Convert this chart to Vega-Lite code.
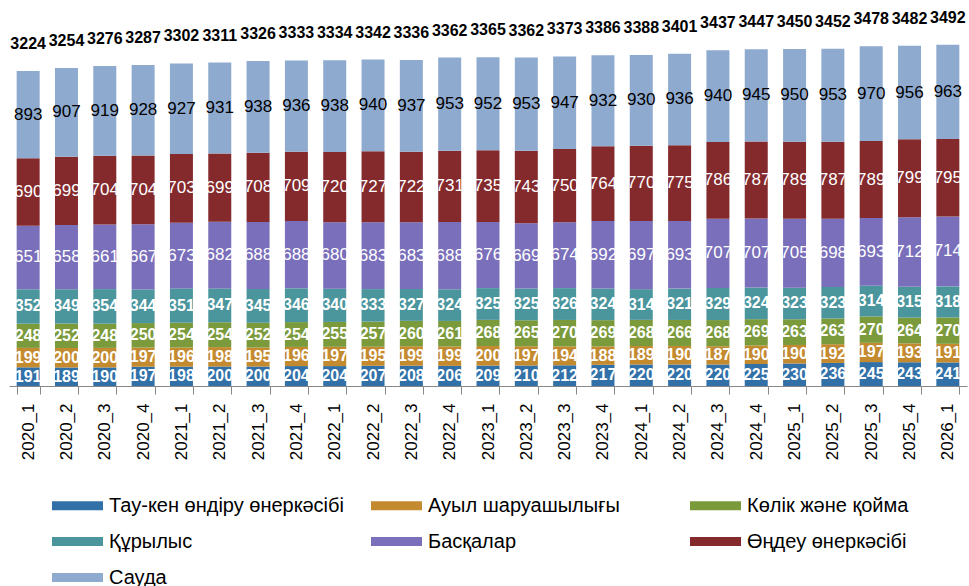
{
  "$schema": "https://vega.github.io/schema/vega-lite/v6.json",
  "autosize": {"type": "none"},
  "width": 958,
  "height": 381,
  "padding": {"left": 9, "top": 5, "right": 2, "bottom": 200},
  "config": {"view": {"stroke": null}, "font": "Liberation Sans"},
  "data": {"values": [
{"p":"2020_1","s":"Тау-кен өндіру өнеркәсібі","v":191},{"p":"2020_1","s":"Ауыл шаруашылығы","v":199},{"p":"2020_1","s":"Көлік және қойма","v":248},{"p":"2020_1","s":"Құрылыс","v":352},{"p":"2020_1","s":"Басқалар","v":651},{"p":"2020_1","s":"Өңдеу өнеркәсібі","v":690},{"p":"2020_1","s":"Сауда","v":893},
{"p":"2020_2","s":"Тау-кен өндіру өнеркәсібі","v":189},{"p":"2020_2","s":"Ауыл шаруашылығы","v":200},{"p":"2020_2","s":"Көлік және қойма","v":252},{"p":"2020_2","s":"Құрылыс","v":349},{"p":"2020_2","s":"Басқалар","v":658},{"p":"2020_2","s":"Өңдеу өнеркәсібі","v":699},{"p":"2020_2","s":"Сауда","v":907},
{"p":"2020_3","s":"Тау-кен өндіру өнеркәсібі","v":190},{"p":"2020_3","s":"Ауыл шаруашылығы","v":200},{"p":"2020_3","s":"Көлік және қойма","v":248},{"p":"2020_3","s":"Құрылыс","v":354},{"p":"2020_3","s":"Басқалар","v":661},{"p":"2020_3","s":"Өңдеу өнеркәсібі","v":704},{"p":"2020_3","s":"Сауда","v":919},
{"p":"2020_4","s":"Тау-кен өндіру өнеркәсібі","v":197},{"p":"2020_4","s":"Ауыл шаруашылығы","v":197},{"p":"2020_4","s":"Көлік және қойма","v":250},{"p":"2020_4","s":"Құрылыс","v":344},{"p":"2020_4","s":"Басқалар","v":667},{"p":"2020_4","s":"Өңдеу өнеркәсібі","v":704},{"p":"2020_4","s":"Сауда","v":928},
{"p":"2021_1","s":"Тау-кен өндіру өнеркәсібі","v":198},{"p":"2021_1","s":"Ауыл шаруашылығы","v":196},{"p":"2021_1","s":"Көлік және қойма","v":254},{"p":"2021_1","s":"Құрылыс","v":351},{"p":"2021_1","s":"Басқалар","v":673},{"p":"2021_1","s":"Өңдеу өнеркәсібі","v":703},{"p":"2021_1","s":"Сауда","v":927},
{"p":"2021_2","s":"Тау-кен өндіру өнеркәсібі","v":200},{"p":"2021_2","s":"Ауыл шаруашылығы","v":198},{"p":"2021_2","s":"Көлік және қойма","v":254},{"p":"2021_2","s":"Құрылыс","v":347},{"p":"2021_2","s":"Басқалар","v":682},{"p":"2021_2","s":"Өңдеу өнеркәсібі","v":699},{"p":"2021_2","s":"Сауда","v":931},
{"p":"2021_3","s":"Тау-кен өндіру өнеркәсібі","v":200},{"p":"2021_3","s":"Ауыл шаруашылығы","v":195},{"p":"2021_3","s":"Көлік және қойма","v":252},{"p":"2021_3","s":"Құрылыс","v":345},{"p":"2021_3","s":"Басқалар","v":688},{"p":"2021_3","s":"Өңдеу өнеркәсібі","v":708},{"p":"2021_3","s":"Сауда","v":938},
{"p":"2021_4","s":"Тау-кен өндіру өнеркәсібі","v":204},{"p":"2021_4","s":"Ауыл шаруашылығы","v":196},{"p":"2021_4","s":"Көлік және қойма","v":254},{"p":"2021_4","s":"Құрылыс","v":346},{"p":"2021_4","s":"Басқалар","v":688},{"p":"2021_4","s":"Өңдеу өнеркәсібі","v":709},{"p":"2021_4","s":"Сауда","v":936},
{"p":"2022_1","s":"Тау-кен өндіру өнеркәсібі","v":204},{"p":"2022_1","s":"Ауыл шаруашылығы","v":197},{"p":"2022_1","s":"Көлік және қойма","v":255},{"p":"2022_1","s":"Құрылыс","v":340},{"p":"2022_1","s":"Басқалар","v":680},{"p":"2022_1","s":"Өңдеу өнеркәсібі","v":720},{"p":"2022_1","s":"Сауда","v":938},
{"p":"2022_2","s":"Тау-кен өндіру өнеркәсібі","v":207},{"p":"2022_2","s":"Ауыл шаруашылығы","v":195},{"p":"2022_2","s":"Көлік және қойма","v":257},{"p":"2022_2","s":"Құрылыс","v":333},{"p":"2022_2","s":"Басқалар","v":683},{"p":"2022_2","s":"Өңдеу өнеркәсібі","v":727},{"p":"2022_2","s":"Сауда","v":940},
{"p":"2022_3","s":"Тау-кен өндіру өнеркәсібі","v":208},{"p":"2022_3","s":"Ауыл шаруашылығы","v":199},{"p":"2022_3","s":"Көлік және қойма","v":260},{"p":"2022_3","s":"Құрылыс","v":327},{"p":"2022_3","s":"Басқалар","v":683},{"p":"2022_3","s":"Өңдеу өнеркәсібі","v":722},{"p":"2022_3","s":"Сауда","v":937},
{"p":"2022_4","s":"Тау-кен өндіру өнеркәсібі","v":206},{"p":"2022_4","s":"Ауыл шаруашылығы","v":199},{"p":"2022_4","s":"Көлік және қойма","v":261},{"p":"2022_4","s":"Құрылыс","v":324},{"p":"2022_4","s":"Басқалар","v":688},{"p":"2022_4","s":"Өңдеу өнеркәсібі","v":731},{"p":"2022_4","s":"Сауда","v":953},
{"p":"2023_1","s":"Тау-кен өндіру өнеркәсібі","v":209},{"p":"2023_1","s":"Ауыл шаруашылығы","v":200},{"p":"2023_1","s":"Көлік және қойма","v":268},{"p":"2023_1","s":"Құрылыс","v":325},{"p":"2023_1","s":"Басқалар","v":676},{"p":"2023_1","s":"Өңдеу өнеркәсібі","v":735},{"p":"2023_1","s":"Сауда","v":952},
{"p":"2023_2","s":"Тау-кен өндіру өнеркәсібі","v":210},{"p":"2023_2","s":"Ауыл шаруашылығы","v":197},{"p":"2023_2","s":"Көлік және қойма","v":265},{"p":"2023_2","s":"Құрылыс","v":325},{"p":"2023_2","s":"Басқалар","v":669},{"p":"2023_2","s":"Өңдеу өнеркәсібі","v":743},{"p":"2023_2","s":"Сауда","v":953},
{"p":"2023_3","s":"Тау-кен өндіру өнеркәсібі","v":212},{"p":"2023_3","s":"Ауыл шаруашылығы","v":194},{"p":"2023_3","s":"Көлік және қойма","v":270},{"p":"2023_3","s":"Құрылыс","v":326},{"p":"2023_3","s":"Басқалар","v":674},{"p":"2023_3","s":"Өңдеу өнеркәсібі","v":750},{"p":"2023_3","s":"Сауда","v":947},
{"p":"2023_4","s":"Тау-кен өндіру өнеркәсібі","v":217},{"p":"2023_4","s":"Ауыл шаруашылығы","v":188},{"p":"2023_4","s":"Көлік және қойма","v":269},{"p":"2023_4","s":"Құрылыс","v":324},{"p":"2023_4","s":"Басқалар","v":692},{"p":"2023_4","s":"Өңдеу өнеркәсібі","v":764},{"p":"2023_4","s":"Сауда","v":932},
{"p":"2024_1","s":"Тау-кен өндіру өнеркәсібі","v":220},{"p":"2024_1","s":"Ауыл шаруашылығы","v":189},{"p":"2024_1","s":"Көлік және қойма","v":268},{"p":"2024_1","s":"Құрылыс","v":314},{"p":"2024_1","s":"Басқалар","v":697},{"p":"2024_1","s":"Өңдеу өнеркәсібі","v":770},{"p":"2024_1","s":"Сауда","v":930},
{"p":"2024_2","s":"Тау-кен өндіру өнеркәсібі","v":220},{"p":"2024_2","s":"Ауыл шаруашылығы","v":190},{"p":"2024_2","s":"Көлік және қойма","v":266},{"p":"2024_2","s":"Құрылыс","v":321},{"p":"2024_2","s":"Басқалар","v":693},{"p":"2024_2","s":"Өңдеу өнеркәсібі","v":775},{"p":"2024_2","s":"Сауда","v":936},
{"p":"2024_3","s":"Тау-кен өндіру өнеркәсібі","v":220},{"p":"2024_3","s":"Ауыл шаруашылығы","v":187},{"p":"2024_3","s":"Көлік және қойма","v":268},{"p":"2024_3","s":"Құрылыс","v":329},{"p":"2024_3","s":"Басқалар","v":707},{"p":"2024_3","s":"Өңдеу өнеркәсібі","v":786},{"p":"2024_3","s":"Сауда","v":940},
{"p":"2024_4","s":"Тау-кен өндіру өнеркәсібі","v":225},{"p":"2024_4","s":"Ауыл шаруашылығы","v":190},{"p":"2024_4","s":"Көлік және қойма","v":269},{"p":"2024_4","s":"Құрылыс","v":324},{"p":"2024_4","s":"Басқалар","v":707},{"p":"2024_4","s":"Өңдеу өнеркәсібі","v":787},{"p":"2024_4","s":"Сауда","v":945},
{"p":"2025_1","s":"Тау-кен өндіру өнеркәсібі","v":230},{"p":"2025_1","s":"Ауыл шаруашылығы","v":190},{"p":"2025_1","s":"Көлік және қойма","v":263},{"p":"2025_1","s":"Құрылыс","v":323},{"p":"2025_1","s":"Басқалар","v":705},{"p":"2025_1","s":"Өңдеу өнеркәсібі","v":789},{"p":"2025_1","s":"Сауда","v":950},
{"p":"2025_2","s":"Тау-кен өндіру өнеркәсібі","v":236},{"p":"2025_2","s":"Ауыл шаруашылығы","v":192},{"p":"2025_2","s":"Көлік және қойма","v":263},{"p":"2025_2","s":"Құрылыс","v":323},{"p":"2025_2","s":"Басқалар","v":698},{"p":"2025_2","s":"Өңдеу өнеркәсібі","v":787},{"p":"2025_2","s":"Сауда","v":953},
{"p":"2025_3","s":"Тау-кен өндіру өнеркәсібі","v":245},{"p":"2025_3","s":"Ауыл шаруашылығы","v":197},{"p":"2025_3","s":"Көлік және қойма","v":270},{"p":"2025_3","s":"Құрылыс","v":314},{"p":"2025_3","s":"Басқалар","v":693},{"p":"2025_3","s":"Өңдеу өнеркәсібі","v":789},{"p":"2025_3","s":"Сауда","v":970},
{"p":"2025_4","s":"Тау-кен өндіру өнеркәсібі","v":243},{"p":"2025_4","s":"Ауыл шаруашылығы","v":193},{"p":"2025_4","s":"Көлік және қойма","v":264},{"p":"2025_4","s":"Құрылыс","v":315},{"p":"2025_4","s":"Басқалар","v":712},{"p":"2025_4","s":"Өңдеу өнеркәсібі","v":799},{"p":"2025_4","s":"Сауда","v":956},
{"p":"2026_1","s":"Тау-кен өндіру өнеркәсібі","v":241},{"p":"2026_1","s":"Ауыл шаруашылығы","v":191},{"p":"2026_1","s":"Көлік және қойма","v":270},{"p":"2026_1","s":"Құрылыс","v":318},{"p":"2026_1","s":"Басқалар","v":714},{"p":"2026_1","s":"Өңдеу өнеркәсібі","v":795},{"p":"2026_1","s":"Сауда","v":963}
  ]},
  "transform": [
    {"calculate": "indexof(['Тау-кен өндіру өнеркәсібі','Ауыл шаруашылығы','Көлік және қойма','Құрылыс','Басқалар','Өңдеу өнеркәсібі','Сауда'], datum.s)", "as": "k"},
    {"stack": "v", "groupby": ["p"], "sort": [{"field": "k", "order": "ascending"}], "as": ["v0", "v1"]},
    {"calculate": "(datum.v0 + datum.v1) / 2", "as": "mid"}
  ],
  "encoding": {
    "x": {
      "field": "p", "type": "ordinal",
      "scale": {"paddingInner": 0.4, "paddingOuter": 0.2},
      "axis": {
        "title": null, "labelAngle": -90, "labelFontSize": 17, "labelColor": "#000",
        "labelPadding": 9, "tickBand": "extent", "tickSize": 8, "tickColor": "#888",
        "domainColor": "#888", "labelFont": "Liberation Sans"
      }
    }
  },
  "layer": [
    {
      "mark": {"type": "bar"},
      "encoding": {
        "y": {"field": "v0", "type": "quantitative", "scale": {"domain": [0, 3900], "nice": false, "zero": true}, "axis": null},
        "y2": {"field": "v1"},
        "color": {
          "field": "s", "type": "nominal",
          "scale": {
            "domain": ["Тау-кен өндіру өнеркәсібі", "Ауыл шаруашылығы", "Көлік және қойма", "Құрылыс", "Басқалар", "Өңдеу өнеркәсібі", "Сауда"],
            "range": ["#3270a8", "#c48a2f", "#7a9a3b", "#4b959d", "#7a6fba", "#842a2d", "#8eaacf"]
          },
          "legend": {
            "title": null, "orient": "none", "direction": "horizontal", "legendX": 43, "legendY": 475,
            "columns": 3, "gridAlign": "all", "columnPadding": 27, "rowPadding": -15,
            "symbolType": "M-1,-0.18H1V0.18H-1Z", "symbolSize": 2601, "symbolStrokeWidth": 0,
            "labelFontSize": 20, "labelColor": "#000", "labelOffset": 6, "labelLimit": 400, "padding": 0
          }
        }
      }
    },
    {
      "transform": [{"filter": "datum.k <= 3"}],
      "mark": {"type": "text", "color": "white", "fontWeight": "bold", "fontSize": 16, "baseline": "middle"},
      "encoding": {
        "y": {"field": "mid", "type": "quantitative"},
        "text": {"field": "v", "type": "quantitative"}
      }
    },
    {
      "transform": [{"filter": "datum.k == 4 || datum.k == 5"}],
      "mark": {"type": "text", "color": "white", "fontSize": 17, "baseline": "middle"},
      "encoding": {
        "y": {"field": "mid", "type": "quantitative"},
        "text": {"field": "v", "type": "quantitative"}
      }
    },
    {
      "transform": [{"filter": "datum.k == 6"}],
      "mark": {"type": "text", "color": "black", "fontSize": 17, "baseline": "middle"},
      "encoding": {
        "y": {"field": "mid", "type": "quantitative"},
        "text": {"field": "v", "type": "quantitative"}
      }
    },
    {
      "transform": [{"aggregate": [{"op": "max", "field": "v1", "as": "tot"}], "groupby": ["p"]}],
      "mark": {"type": "text", "color": "black", "fontWeight": "bold", "fontSize": 16, "baseline": "middle", "dy": -27},
      "encoding": {
        "y": {"field": "tot", "type": "quantitative"},
        "text": {"field": "tot", "type": "quantitative"}
      }
    }
  ]
}
